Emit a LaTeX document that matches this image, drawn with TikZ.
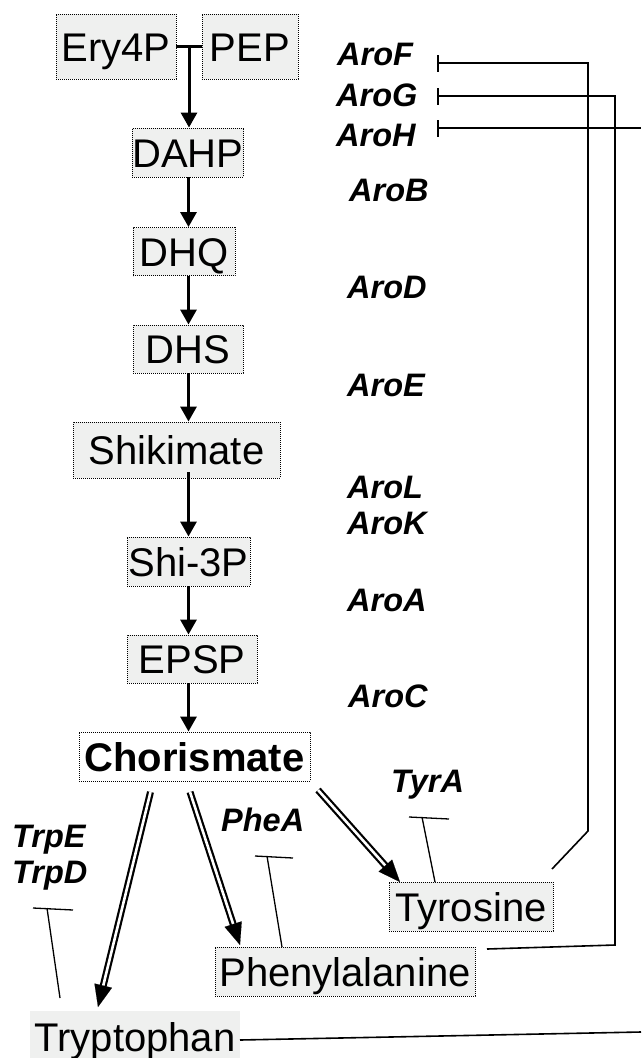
\documentclass[tikz,border=0pt]{standalone}
\usepackage{fontspec}
\setmainfont{Liberation Sans}
\usetikzlibrary{arrows.meta,calc}
\definecolor{boxfill}{HTML}{EFF0EF}
\begin{document}
\begin{tikzpicture}[x=1pt,y=-1pt,
  box/.style={draw, line width=0.9pt, dash pattern=on 0.9pt off 1.1pt, fill=boxfill, inner sep=0pt,
    text height=29pt, text depth=0pt, font=\fontsize{40}{40}\selectfont},
  gene/.style={anchor=west, inner sep=0pt, text height=23pt, text depth=0pt,
    font=\fontsize{32.5}{32.5}\selectfont\bfseries\itshape},
  arr/.style={line width=3pt, -{Triangle[length=15pt,width=16pt]}},
  dbl/.style={double=white, double distance=2.6pt, line width=2.2pt, shorten >=14pt},
  dtip/.style={line width=0.1pt, -{Triangle[length=22pt,width=18pt]}},
  inh/.style={line width=1.6pt},
  tee/.style={line width=1.3pt}]
\useasboundingbox (0,0) rectangle (641,1058);

% metabolite boxes
\node[box, minimum width=120pt, minimum height=65pt] (ery) at (116,46.5) {Ery4P};
\node[box, minimum width=96pt, minimum height=65pt] (pep) at (250,46.5) {PEP};
\node[box, minimum width=110pt, minimum height=49pt] (dahp) at (188,152.5) {DAHP};
\node[box, minimum width=102pt, minimum height=48pt] (dhq) at (184,251.5) {DHQ};
\node[box, minimum width=110pt, minimum height=48pt] (dhs) at (188,349) {DHS};
\node[box, minimum width=207pt, minimum height=56pt] (shik) at (176.5,450) {Shikimate};
\node[box, minimum width=123pt, minimum height=49pt] (s3p) at (188.5,561.5) {Shi-3P};
\node[box, minimum width=130pt, minimum height=48pt] (epsp) at (192,659) {EPSP};
\node[box, fill=white, minimum width=231pt, minimum height=49pt, font=\fontsize{40}{40}\selectfont\bfseries] (chor) at (194.5,756.5) {Chorismate};
\node[box, minimum width=164pt, minimum height=49pt] (tyr) at (471,906.5) {Tyrosine};
\node[box, minimum width=260pt, minimum height=49pt] (phe) at (345,971.5) {Phenylalanine};
\node[box, draw=none, minimum width=210pt, minimum height=52pt] (trp) at (135,1037) {Tryptophan};

% gene labels
\node[gene] (aroF) at (337,54) {AroF};
\node[gene] (aroG) at (336,94.5) {AroG};
\node[gene] (aroH) at (336,135) {AroH};
\node[gene] (aroB) at (349,190) {AroB};
\node[gene] (aroD) at (347,287) {AroD};
\node[gene] (aroE) at (347,385) {AroE};
\node[gene] (aroL) at (347,487) {AroL};
\node[gene] (aroK) at (347,523) {AroK};
\node[gene] (aroA) at (347,600) {AroA};
\node[gene] (aroC) at (348,696) {AroC};
\node[gene] (tyrA) at (391,781) {TyrA};
\node[gene] (pheA) at (221,820) {PheA};
\node[gene] (trpE) at (12,836) {TrpE};
\node[gene] (trpD) at (12,872) {TrpD};

% main pathway
\coordinate (ax) at (188.5,0);
\coordinate (j) at (189,46.5);
\draw[line width=3pt] (ery.east) -- (pep.west);
\draw[arr] (j) -- (j |- dahp.north);
\draw[arr] (dahp.south -| ax) -- (dhq.north -| ax);
\draw[arr] (dhq.south -| ax) -- (dhs.north -| ax);
\draw[arr] (dhs.south -| ax) -- (shik.north -| ax);
\draw[arr] ([yshift=6pt]shik.south -| ax) -- (s3p.north -| ax);
\draw[arr] (s3p.south -| ax) -- (epsp.north -| ax);
\draw[arr] (epsp.south -| ax) -- (chor.north -| ax);

% branches
\coordinate (c1) at (150.5,792); \coordinate (e1) at (98,1007);
\coordinate (c2) at (190,792);   \coordinate (e2) at (240,945);
\coordinate (c3) at (318,790);   \coordinate (e3) at (400,882);
\draw[dbl] (c1) -- (e1);
\draw[dtip] ($(e1)!22pt!(c1)$) -- (e1);
\draw[dbl] (c2) -- (e2);
\draw[dtip] ($(e2)!22pt!(c2)$) -- (e2);
\draw[dbl] (c3) -- (e3);
\draw[dtip] ($(e3)!22pt!(c3)$) -- (e3);

% enzyme tee marks
\draw[tee] (409,817) -- (449,819);
\draw[tee] (422,817) -- (435,882);
\draw[tee] (255,856) -- (293,858);
\draw[tee] (267,856) -- (282,947);
\draw[tee] (33,908) -- (73,910);
\draw[tee] (47,908) -- (60,998);

% feedback inhibition
\coordinate (fF) at (437,63);
\coordinate (fG) at (437,96);
\coordinate (fH) at (437,128);
\draw[inh, {Bar[width=17pt]}-] (fF) -- (588,63) -- (588,831) -- (552,869);
\draw[inh, {Bar[width=17pt]}-] (fG) -- (615,96) -- (615,945) -- (487,949);
\draw[inh, {Bar[width=17pt]}-] (fH) -- (641,128);
\draw[inh] (240,1040) -- (641,1032);
\end{tikzpicture}
\end{document}
